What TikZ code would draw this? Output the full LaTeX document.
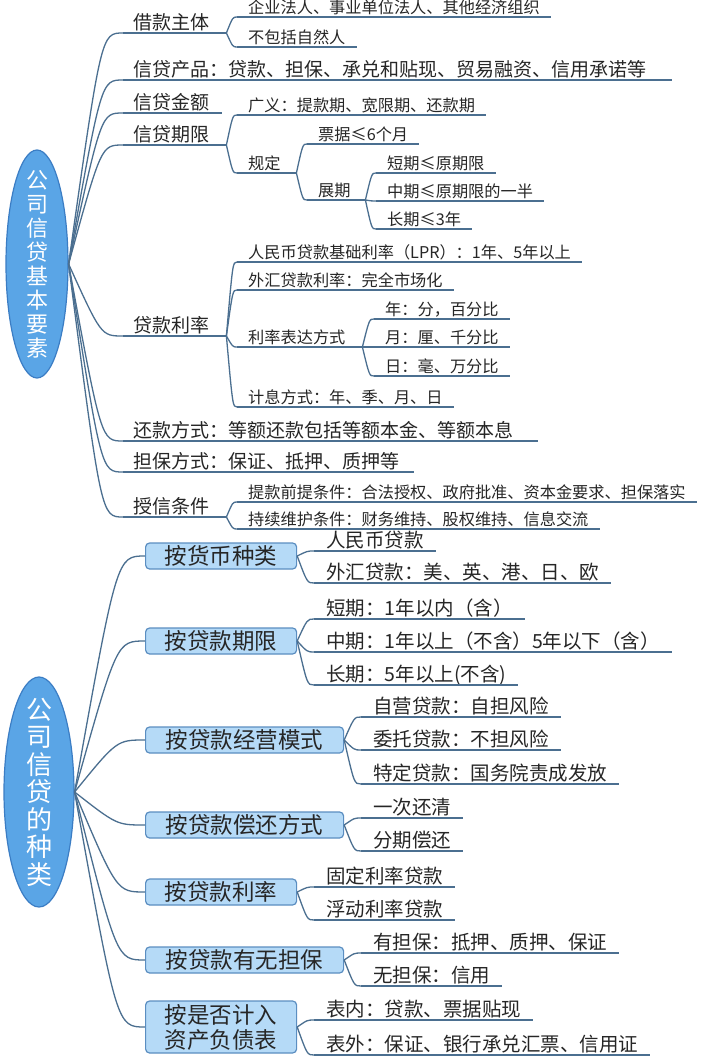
\documentclass[tikz,border=0pt]{standalone}
\usepackage{fontspec}
\setmainfont{Noto Sans CJK SC}
\usetikzlibrary{calc,shapes.geometric}
\definecolor{lc}{HTML}{4B6F90}
\definecolor{rootfill}{HTML}{5AA5E6}
\definecolor{rootdraw}{HTML}{3B7DC4}
\definecolor{boxfill}{HTML}{B5DAF7}
\definecolor{boxdraw}{HTML}{5B8EC1}
\definecolor{txt}{HTML}{262626}
\newcommand\mmconn[3][0.6]{\draw[ln] let \p1=(#2), \p2=(#3) in (#2) .. controls ({\x1+#1*(\x2-\x1)},\y2) .. (#3);}
\tikzset{
  ln/.style={draw=lc, line width=1.3pt},
  ul/.style={append after command={(\tikzlastnode.south west) edge[ln] (\tikzlastnode.south east)}},
  tA/.style={ul, anchor=south west, inner xsep=10pt, inner ysep=0.5pt, text depth=3pt, font=\fontsize{19pt}{21pt}\selectfont, text=txt},
  tB/.style={ul, anchor=south west, inner xsep=11pt, inner ysep=0.5pt, text depth=2.5pt, font=\fontsize{16.2pt}{18pt}\selectfont, text=txt},
  tC/.style={ul, anchor=south west, inner xsep=12pt, inner ysep=0.5pt, text depth=3pt, font=\fontsize{19.5pt}{21pt}\selectfont, text=txt},
  tw/.style={text width=#1pt, align=left},
  mmbox/.style={anchor=west, rounded corners=4pt, fill=boxfill, draw=boxdraw, line width=1.2pt, minimum height=26pt, inner sep=0pt, font=\fontsize{22.5pt}{25pt}\selectfont, text=black!85, align=center},
  rootnode/.style={ellipse, fill=rootfill, draw=rootdraw, line width=1.2pt, inner sep=0pt},
  roottext/.style={text=white, align=center, inner sep=0pt}
}
\begin{document}
\begin{tikzpicture}[x=1pt,y=-1pt]
\useasboundingbox (0,0) rectangle (711,1057);
\fill[white] (0,0) rectangle (711,1057);

% ---------- top tree ----------
\node[rootnode, minimum width=62pt, minimum height=228pt] (r1) at (37,264) {};
\node[roottext, font=\fontsize{22pt}{24pt}\selectfont] (r1t) at (r1.center) {公\\司\\信\\贷\\基\\本\\要\\素};

\node[tA, tw=83] (a) at (123,33) {借款主体};
\node[tA, tw=529] (b) at (123,80) {信贷产品：贷款、担保、承兑和贴现、贸易融资、信用承诺等};
\node[tA, tw=79] (c) at (123,113) {信贷金额};
\node[tA, tw=83] (d) at (123,145) {信贷期限};
\node[tA, tw=83] (e) at (123,336) {贷款利率};
\node[tA, tw=395] (f) at (123,441) {还款方式：等额还款包括等额本金、等额本息};
\node[tA, tw=271] (g) at (123,472) {担保方式：保证、抵押、质押等};
\node[tA, tw=83] (h) at (123,517) {授信条件};

\node[tB] (a1) at (237,17) {企业法人、事业单位法人、其他经济组织};
\node[tB] (a2) at (237,47) {不包括自然人};
\node[tB] (d1) at (237,115) {广义：提款期、宽限期、还款期};
\node[tB, tw=37] (d2) at (237,173) {规定};
\node[tB] (d21) at (307,144) {票据≤6个月};
\node[tB, tw=36] (d22) at (307,200) {展期};
\node[tB] (d221) at (376,173) {短期≤原期限};
\node[tB] (d222) at (376,201) {中期≤原期限的一半};
\node[tB] (d223) at (376,229) {长期≤3年};
\node[tB] (e1) at (237,262) {人民币贷款基础利率（LPR）：1年、5年以上};
\node[tB] (e2) at (237,290) {外汇贷款利率：完全市场化};
\node[tB, tw=103] (e3) at (237,347) {利率表达方式};
\node[tB] (e31) at (374,319) {年：分，百分比};
\node[tB] (e32) at (374,347) {月：厘、千分比};
\node[tB] (e33) at (374,376) {日：毫、万分比};
\node[tB] (e4) at (237,407) {计息方式：年、季、月、日};
\node[tB] (h1) at (237,502) {提款前提条件：合法授权、政府批准、资本金要求、担保落实};
\node[tB] (h2) at (237,529) {持续维护条件：财务维持、股权维持、信息交流};

\foreach \k in {a,b,c,d,e,f,g,h} {\mmconn{r1.east}{\k.south west}}
\mmconn{a.south east}{a1.south west}
\mmconn{a.south east}{a2.south west}
\mmconn{d.south east}{d1.south west}
\mmconn{d.south east}{d2.south west}
\mmconn{d2.south east}{d21.south west}
\mmconn{d2.south east}{d22.south west}
\mmconn{d22.south east}{d221.south west}
\mmconn{d22.south east}{d222.south west}
\mmconn{d22.south east}{d223.south west}
\mmconn{e.south east}{e1.south west}
\mmconn{e.south east}{e2.south west}
\mmconn{e.south east}{e3.south west}
\mmconn{e.south east}{e4.south west}
\mmconn{e3.south east}{e31.south west}
\mmconn{e3.south east}{e32.south west}
\mmconn{e3.south east}{e33.south west}
\mmconn{h.south east}{h1.south west}
\mmconn{h.south east}{h2.south west}

% ---------- bottom tree ----------
\node[rootnode, minimum width=70pt, minimum height=230pt] (r2) at (39,792) {};
\node[roottext, font=\fontsize{26pt}{27.5pt}\selectfont] (r2t) at (r2.center) {公\\司\\信\\贷\\的\\种\\类};

\node[mmbox, minimum width=151pt] (B1) at (145,556) {按货币种类};
\node[mmbox, minimum width=151pt] (B2) at (145,641) {按贷款期限};
\node[mmbox, minimum width=198pt] (B3) at (145,740) {按贷款经营模式};
\node[mmbox, minimum width=198pt] (B4) at (145,825) {按贷款偿还方式};
\node[mmbox, minimum width=151pt] (B5) at (145,892) {按贷款利率};
\node[mmbox, minimum width=198pt] (B6) at (145,960) {按贷款有无担保};
\node[mmbox, minimum width=151pt, minimum height=52pt] (B7) at (145,1027) {按是否计入\\资产负债表};

\node[tC] (B11) at (314,551) {人民币贷款};
\node[tC] (B12) at (314,583) {外汇贷款：美、英、港、日、欧};
\node[tC] (B21) at (314,619) {短期：1年以内（含）};
\node[tC] (B22) at (314,652) {中期：1年以上（不含）5年以下（含）};
\node[tC] (B23) at (314,685) {长期：5年以上(不含)};
\node[tC] (B31) at (361,717) {自营贷款：自担风险};
\node[tC] (B32) at (361,750) {委托贷款：不担风险};
\node[tC] (B33) at (361,784) {特定贷款：国务院责成发放};
\node[tC] (B41) at (361,818) {一次还清};
\node[tC] (B42) at (361,851) {分期偿还};
\node[tC] (B51) at (314,887) {固定利率贷款};
\node[tC] (B52) at (314,920) {浮动利率贷款};
\node[tC] (B61) at (361,953) {有担保：抵押、质押、保证};
\node[tC] (B62) at (361,986) {无担保：信用};
\node[tC] (B71) at (314,1020) {表内：贷款、票据贴现};
\node[tC] (B72) at (314,1055) {表外：保证、银行承兑汇票、信用证};

\foreach \k in {B1,B2,B3,B4,B5,B6,B7} {\mmconn{r2.east}{\k.west}}
\mmconn{B1.east}{B11.south west}
\mmconn{B1.east}{B12.south west}
\mmconn{B2.east}{B21.south west}
\mmconn{B2.east}{B22.south west}
\mmconn{B2.east}{B23.south west}
\mmconn{B3.east}{B31.south west}
\mmconn{B3.east}{B32.south west}
\mmconn{B3.east}{B33.south west}
\mmconn{B4.east}{B41.south west}
\mmconn{B4.east}{B42.south west}
\mmconn{B5.east}{B51.south west}
\mmconn{B5.east}{B52.south west}
\mmconn{B6.east}{B61.south west}
\mmconn{B6.east}{B62.south west}
\mmconn{B7.east}{B71.south west}
\mmconn{B7.east}{B72.south west}
\end{tikzpicture}
\end{document}
